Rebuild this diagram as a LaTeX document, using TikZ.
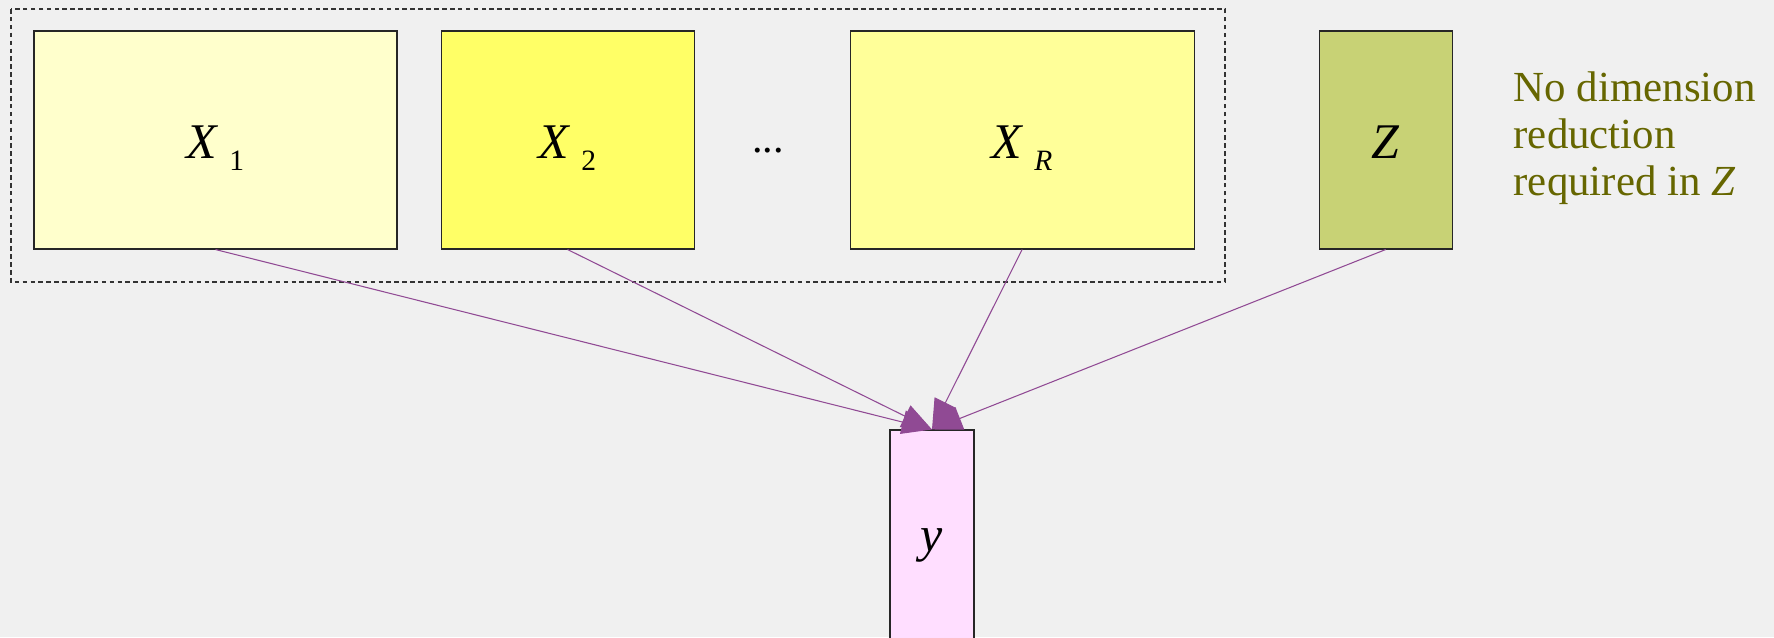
\documentclass[tikz,border=0pt]{standalone}
\usepackage{fontspec}
\setmainfont{Liberation Serif}
\usepackage{tikz}
\usetikzlibrary{positioning,arrows.meta}

\definecolor{bggray}{HTML}{F0F0F0}
\definecolor{paleyellow}{HTML}{FFFFCC}
\definecolor{brightyellow}{HTML}{FFFF66}
\definecolor{softyellow}{HTML}{FFFF99}
\definecolor{olivebox}{HTML}{C8D275}
\definecolor{palepink}{HTML}{FFDEFF}
\definecolor{olivetext}{HTML}{666600}
\definecolor{arrowpurple}{HTML}{904A94}

% italic block name with a lowered subscript
\newcommand{\blockname}[2]{\textit{#1}\kern3pt\raisebox{-3.4pt}{\fontsize{8.4}{10}\selectfont #2}}

\begin{document}
\begin{tikzpicture}[
    block/.style={
        rectangle,
        draw=black!85,
        line width=0.3pt,
        minimum height=2.18cm,
        inner sep=0pt,
        align=center,
        text height=13.4pt,
        text depth=2.8pt,
        font=\fontsize{14.2}{17}\selectfont
    },
    link/.style={
        draw=arrowpurple,
        line width=0.3pt,
        -{Triangle[length=0.3cm,width=0.24cm]}
    },
    note/.style={
        align=left,
        inner sep=0pt,
        text=olivetext,
        font=\fontsize{12.2}{13.4}\selectfont
    }
]

\fill[bggray] (0,0) rectangle (17.74,-6.37);
\useasboundingbox (0,0) rectangle (17.74,-6.37);
\clip (0,0) rectangle (17.74,-6.37);

\node[block, fill=paleyellow, minimum width=3.63cm] (x1) at (2.155,-1.40)
{\blockname{X}{1}};

\node[block, fill=brightyellow, minimum width=2.53cm, right=0.43cm of x1] (x2)
{\blockname{X}{2}};

\node[block, fill=softyellow, minimum width=3.44cm, right=1.55cm of x2] (xr)
{\blockname{X}{\textit{R}}};

\node[font=\fontsize{12}{14}\selectfont] (dots) at (7.68,-1.51) {...};

\node[block, fill=olivebox, minimum width=1.33cm, right=1.24cm of xr] (z)
{\textit{Z}};

\node[note, anchor=north west] (zinfo) at (15.13,-0.71)
{No dimension\\reduction\\required in \textit{Z}};

% group of the reduced blocks
\draw[black!80, line width=0.3pt, dash pattern=on 1.3pt off 0.95pt] (0.11,-0.09) rectangle (12.25,-2.82);

\node[block, fill=palepink, minimum width=0.84cm, minimum height=2.2cm,
      text height=9.6pt, text depth=3.1pt] (y) at (9.32,-5.40)
{\textit{y}};

\draw[link] (x1.south) -- (y.north);
\draw[link] (x2.south) -- (y.north);
\draw[link] (xr.south) -- (y.north);
\draw[link] (z.south) -- (y.north);

\end{tikzpicture}
\end{document}
